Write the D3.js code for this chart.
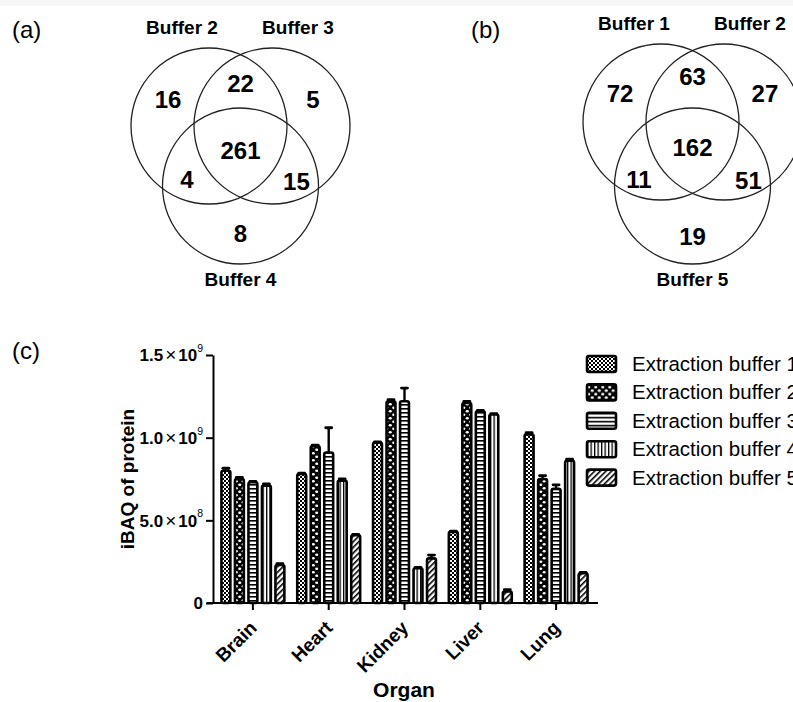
<!DOCTYPE html>
<html>
<head>
<meta charset="utf-8">
<script src="https://cdn.jsdelivr.net/npm/d3@7"></script>
<style>
  body { margin: 0; background: #fff; }
  svg { display: block; font-family: Arial, "Liberation Sans", sans-serif; }
</style>
</head>
<body>
<svg id="fig" width="793" height="702"></svg>
<script>
// ---- data ----
// venn (a)
const vennA_sets = ["Buffer 2", "Buffer 3", "Buffer 4"]
// counts: only1, 1&2, only2, all, 1&3, 2&3, only3
const vennA_counts = [16, 22, 5, 261, 4, 15, 8]
// venn (b)
const vennB_sets = ["Buffer 1", "Buffer 2", "Buffer 5"]
const vennB_counts = [72, 63, 27, 162, 11, 51, 19]

// bar chart (c), iBAQ values in units of 1e9
const organs = ["Brain", "Heart", "Kidney", "Liver", "Lung"]
const buffers = ["Extraction buffer 1", "Extraction buffer 2", "Extraction buffer 3",
                 "Extraction buffer 4", "Extraction buffer 5"]
const buffer1 = [0.80, 0.78, 0.97, 0.43, 1.02]
const buffer2 = [0.75, 0.95, 1.22, 1.21, 0.75]
const buffer3 = [0.73, 0.91, 1.22, 1.16, 0.69]
const buffer4 = [0.71, 0.74, 0.21, 1.14, 0.86]
const buffer5 = [0.23, 0.41, 0.27, 0.07, 0.18]
const err1 = [0.015, 0.005, 0.005, 0.005, 0.01]
const err2 = [0.01, 0.005, 0.01, 0.01, 0.02]
const err3 = [0.005, 0.15, 0.08, 0.005, 0.025]
const err4 = [0.01, 0.01, 0.005, 0.005, 0.01]
const err5 = [0.008, 0.005, 0.02, 0.01, 0.005]
const yTicks = [0, 0.5, 1.0, 1.5]
const yTickLabels = [["0", ""], ["5.0", "8"], ["1.0", "9"], ["1.5", "9"]]

const series = [buffer1, buffer2, buffer3, buffer4, buffer5]
const errors = [err1, err2, err3, err4, err5]

const svg = d3.select("#fig")

// faint scan edge at the top
svg.append("rect").attr("x", 0).attr("y", 0).attr("width", 793).attr("height", 6).attr("fill", "#f6f6f6")

// ---- patterns ----
const defs = svg.append("defs")
function pat(id, w, h, bg) {
  const p = defs.append("pattern").attr("id", id)
    .attr("patternUnits", "userSpaceOnUse").attr("width", w).attr("height", h)
  p.append("rect").attr("width", w).attr("height", h).attr("fill", bg)
  return p
}
let p = pat("p1", 4, 4, "#fff")
p.append("rect").attr("width", 2).attr("height", 2).attr("fill", "#000")
p.append("rect").attr("x", 2).attr("y", 2).attr("width", 2).attr("height", 2).attr("fill", "#000")
p = pat("p2", 7, 7, "#000")
p.append("ellipse").attr("cx", 1.75).attr("cy", 1.75).attr("rx", 1.6).attr("ry", 1.3).attr("fill", "#fff")
p.append("ellipse").attr("cx", 5.25).attr("cy", 5.25).attr("rx", 1.6).attr("ry", 1.3).attr("fill", "#fff")
p = pat("p3", 4, 4, "#fff")
p.append("rect").attr("width", 4).attr("height", 1.6).attr("fill", "#000")
p = pat("p4", 3.5, 4, "#fff")
p.append("rect").attr("width", 1.3).attr("height", 4).attr("fill", "#000")
p = pat("p5", 4, 4, "#fff").attr("patternTransform", "rotate(45)")
p.append("rect").attr("width", 1.6).attr("height", 4).attr("fill", "#000")
const fills = ["url(#p1)", "url(#p2)", "url(#p3)", "url(#p4)", "url(#p5)"]

// ---- venn diagrams ----
function venn(cx, cyTop, cyBot, sets, counts, tag, tagX) {
  const r = 78, dx = 31.5
  const centers = [[cx - dx, cyTop], [cx + dx, cyTop], [cx, cyBot]]
  const g = svg.append("g")
  g.selectAll("circle").data(centers).join("circle")
    .attr("cx", d => d[0]).attr("cy", d => d[1]).attr("r", r)
    .attr("fill", "none").attr("stroke", "#222").attr("stroke-width", 1.3)

  const mid = [d3.mean(centers, d => d[0]), d3.mean(centers, d => d[1])]
  const away = (c, k) => [c[0] + (c[0] - mid[0]) * k, c[1] + (c[1] - mid[1]) * k]
  const pair = (a, b, o, k) => {
    const m = [(a[0] + b[0]) / 2, (a[1] + b[1]) / 2]
    return [m[0] + (m[0] - o[0]) * k, m[1] + (m[1] - o[1]) * k]
  }
  const [c1, c2, c3] = centers
  const spots = [away(c1, 1.3), pair(c1, c2, c3, 0.7), away(c2, 1.3),
                 [mid[0], mid[1] + 5], pair(c1, c3, c2, 0.8), pair(c2, c3, c1, 0.85), away(c3, 1.2)]
  g.selectAll("text.n").data(counts).join("text").attr("class", "n")
    .attr("x", (d, i) => spots[i][0]).attr("y", (d, i) => spots[i][1] + 8)
    .attr("text-anchor", "middle").attr("font-weight", "bold").attr("font-size", 24)
    .text(d => d)

  const labelPos = [[c1[0] - 27, cyTop - 92], [c2[0] + 26, cyTop - 92], [c3[0], cyBot + 100]]
  g.selectAll("text.s").data(sets).join("text").attr("class", "s")
    .attr("x", (d, i) => labelPos[i][0]).attr("y", (d, i) => labelPos[i][1])
    .attr("text-anchor", "middle").attr("font-weight", "bold").attr("font-size", 19)
    .text(d => d)

  svg.append("text").attr("x", tagX).attr("y", 38).attr("font-size", 24).text(tag)
}
venn(240.5, 126, 186, vennA_sets, vennA_counts, "(a)", 12)
venn(692.5, 122, 186, vennB_sets, vennB_counts, "(b)", 471)

// ---- bar chart ----
svg.append("text").attr("x", 12).attr("y", 359).attr("font-size", 24).text("(c)")

const x = d3.scaleBand().domain(organs).range([215, 594]).paddingInner(0.17).paddingOuter(0.085)
const xs = d3.scaleBand().domain(d3.range(5)).range([0, x.bandwidth()]).paddingInner(0.34)
const y = d3.scaleLinear().domain([0, 1.5]).range([603, 355])

const rows = []
organs.forEach((o, i) => series.forEach((s, j) =>
  rows.push({ organ: o, k: j, v: s[i], e: errors[j][i] })))

const bars = svg.append("g")
bars.selectAll("line.err").data(rows).join("line").attr("class", "err")
  .attr("x1", d => x(d.organ) + xs(d.k) + xs.bandwidth() / 2)
  .attr("x2", d => x(d.organ) + xs(d.k) + xs.bandwidth() / 2)
  .attr("y1", d => y(d.v)).attr("y2", d => y(d.v + d.e))
  .attr("stroke", "#000").attr("stroke-width", 2.4)
bars.selectAll("line.cap").data(rows).join("line").attr("class", "cap")
  .attr("x1", d => x(d.organ) + xs(d.k) + xs.bandwidth() / 2 - 3)
  .attr("x2", d => x(d.organ) + xs(d.k) + xs.bandwidth() / 2 + 3)
  .attr("y1", d => y(d.v + d.e)).attr("y2", d => y(d.v + d.e))
  .attr("stroke", "#000").attr("stroke-width", 2.8).attr("stroke-linecap", "round")
bars.selectAll("rect").data(rows).join("rect")
  .attr("x", d => x(d.organ) + xs(d.k)).attr("width", xs.bandwidth())
  .attr("y", d => y(d.v)).attr("height", d => y(0) - y(d.v))
  .attr("rx", 2)
  .attr("fill", d => fills[d.k]).attr("stroke", "#000").attr("stroke-width", 2.6)

// y axis
const yAxis = svg.append("g").attr("transform", "translate(213,0)")
  .call(d3.axisLeft(y).tickValues(yTicks).tickSize(7).tickSizeOuter(0).tickFormat(""))
yAxis.select(".domain").attr("stroke-width", 2)
yAxis.selectAll(".tick line").attr("stroke-width", 2)
yAxis.selectAll(".tick text").remove()
yAxis.selectAll(".tick").each(function (d, i) {
  const t = d3.select(this).append("text").attr("x", -10).attr("dy", "0.35em")
    .attr("text-anchor", "end").attr("fill", "#000").attr("font-size", 17)
    .attr("font-family", "Arial, 'Liberation Sans', sans-serif")
  const lab = yTickLabels[i]
  t.append("tspan").attr("font-weight", "bold").text(lab[0])
  if (lab[1]) {
    t.append("tspan").attr("font-size", 19).attr("dx", 2).text("\u00d7")
    t.append("tspan").attr("font-weight", "bold").attr("dx", 2).text("10")
    t.append("tspan").attr("font-size", 10.5).attr("dy", "-0.9em").text(lab[1])
  }
})

svg.append("text").attr("transform", "translate(134,479) rotate(-90)")
  .attr("text-anchor", "middle").attr("font-weight", "bold").attr("font-size", 19)
  .text("iBAQ of protein")

// x axis
const xAxis = svg.append("g").attr("transform", "translate(0,603)")
  .call(d3.axisBottom(x).tickSize(7).tickSizeOuter(0))
xAxis.select(".domain").attr("d", "M207,0H598").attr("stroke-width", 2)
xAxis.selectAll(".tick line").attr("stroke-width", 2)
xAxis.selectAll(".tick text")
  .attr("transform", "translate(5,26) rotate(-45)").attr("y", 0).attr("dy", 0)
  .attr("text-anchor", "end").attr("font-size", 19).attr("font-weight", "bold")
  .attr("font-family", "Arial, 'Liberation Sans', sans-serif").attr("fill", "#000")

svg.append("text").attr("x", 404).attr("y", 697).attr("text-anchor", "middle")
  .attr("font-weight", "bold").attr("font-size", 21).text("Organ")

// legend
const leg = svg.append("g").selectAll("g").data(buffers).join("g")
  .attr("transform", (d, i) => `translate(587,${364 + i * 28.4})`)
leg.append("rect").attr("y", -8).attr("width", 29).attr("height", 16).attr("rx", 2)
  .attr("fill", (d, i) => fills[i]).attr("stroke", "#000").attr("stroke-width", 2.6)
leg.append("text").attr("x", 45).attr("y", 7).attr("font-size", 20.5).text(d => d)
</script>
</body>
</html>
